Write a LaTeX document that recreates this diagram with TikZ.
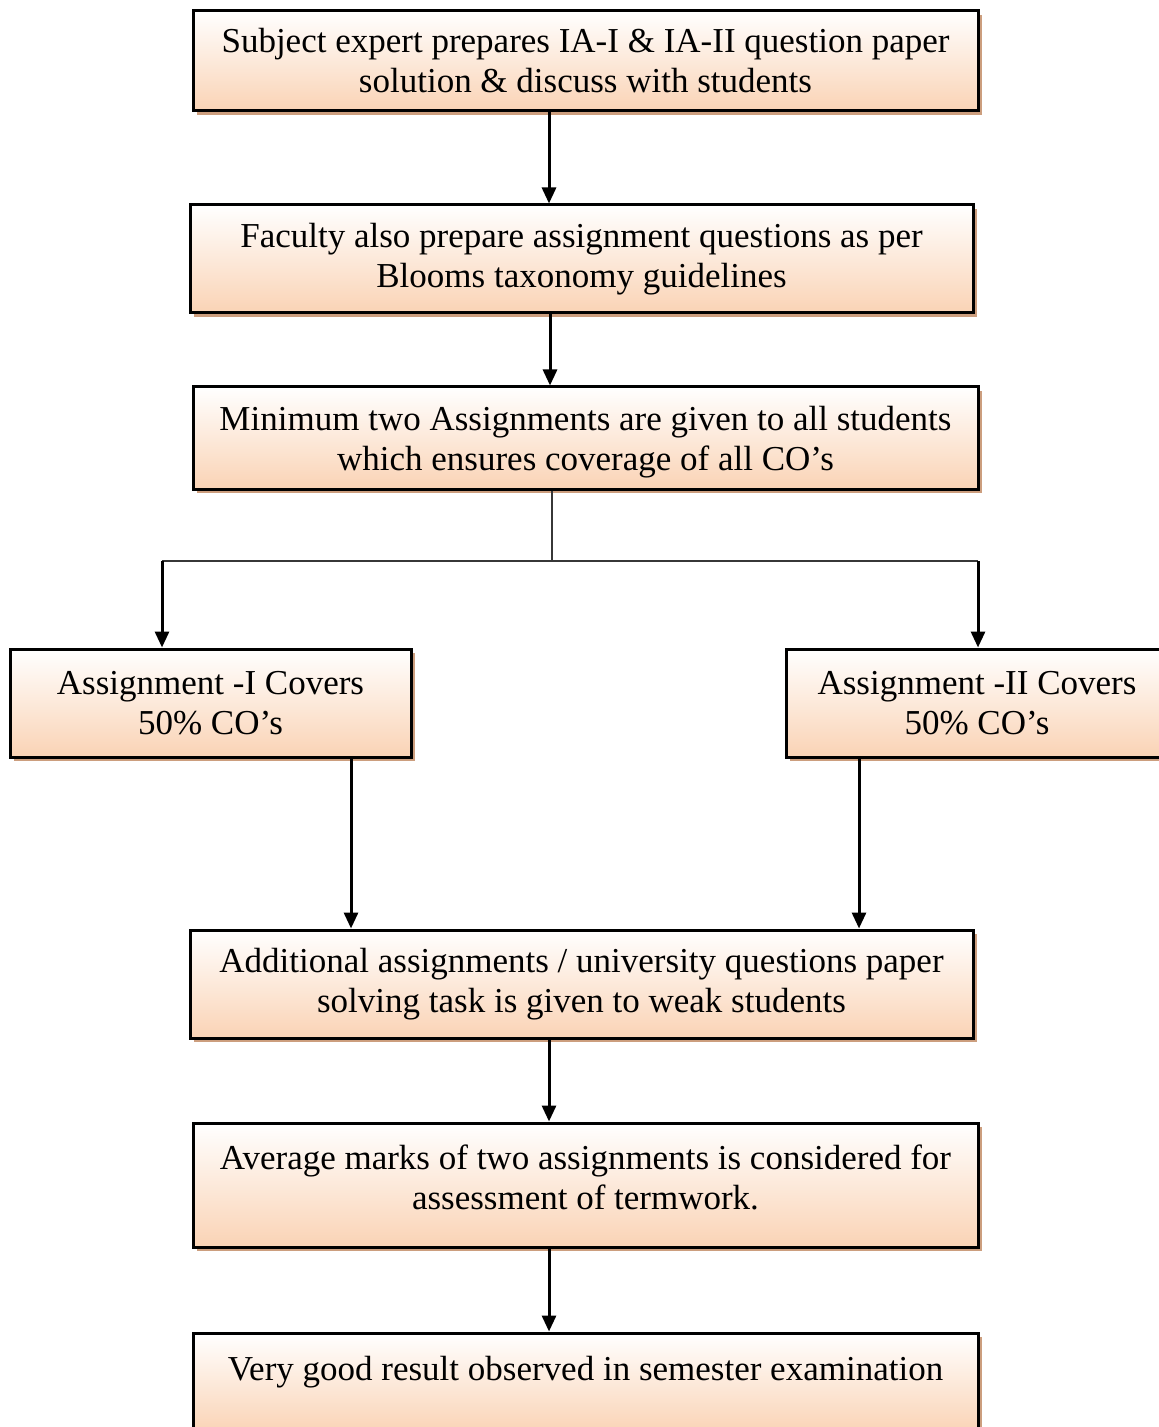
\documentclass[tikz,border=0pt]{standalone}
\usepackage{xcolor}
\usepackage{fontspec}
\setmainfont{Liberation Serif}
\usepackage{tikz}
\usetikzlibrary{arrows.meta,shadows}

\definecolor{peach}{RGB}{250,211,181}
\definecolor{shadowtan}{RGB}{204,158,126}
\definecolor{linegray}{RGB}{55,55,55}

\tikzset{
  stepbox/.style={draw=black, line width=1.5pt, inner sep=0pt,
    top color=white, middle color=peach!70, bottom color=peach, align=center,
    font=\fontsize{17.5pt}{20pt}\selectfont,
    drop shadow={shadow xshift=2.2pt, shadow yshift=-2.2pt, fill=shadowtan, opacity=1}},
  arrowline/.style={line width=1.5pt, -{Triangle[length=8pt,width=7pt]}},
  thinline/.style={draw=linegray, line width=0.6pt}
}

\begin{document}
\begin{tikzpicture}[x=0.5pt, y=-0.5pt]
            \useasboundingbox (0,0) rectangle (1159,1427);
            \clip (0,0) rectangle (1159,1427);

            % Boxes
            \node[stepbox, minimum width=392.5pt, minimum height=50pt] (expert) at (585.5,61)
                {Subject expert prepares IA-I \& IA-II question paper\\ solution \& discuss with students};
            \node[stepbox, minimum width=391.5pt, minimum height=54pt] (faculty) at (581.5,259)
                {Faculty also prepare assignment questions as per\\ Blooms taxonomy guidelines};
            \node[stepbox, minimum width=392.5pt, minimum height=51pt, text depth=0pt] (minimum) at (585.5,438)
                {Minimum two Assignments are given to all students\\ which ensures coverage of all CO’s};
            \node[stepbox, minimum width=200.5pt, minimum height=54pt] (partone) at (210.5,703)
                {Assignment -I Covers\\ 50\% CO’s};
            \node[stepbox, minimum width=191pt, minimum height=54pt] (parttwo) at (977,703)
                {Assignment -II Covers\\ 50\% CO’s};
            \node[stepbox, minimum width=391.5pt, minimum height=54pt] (weak) at (581.5,984)
                {Additional assignments / university questions paper\\ solving task is given to weak students};
            \node[stepbox, minimum width=392.5pt, minimum height=62pt, text depth=7.5pt] (average) at (585.5,1185)
                {Average marks of two assignments is considered for\\ assessment of termwork.};
            \node[stepbox, minimum width=392.5pt, minimum height=50pt, text depth=15pt] (result) at (585.5,1383)
                {Very good result observed in semester examination};

            % Straight arrows
            \draw[arrowline] ([xshift=-18.25pt]expert.south) coordinate (a1) -- (a1 |- faculty.north);
            \draw[arrowline] ([xshift=-15.75pt]faculty.south) coordinate (a2) -- (a2 |- minimum.north);
            \draw[arrowline] ([xshift=70.25pt]partone.south) coordinate (a3) -- (a3 |- weak.north);
            \draw[arrowline] ([xshift=-59pt]parttwo.south) coordinate (a4) -- (a4 |- weak.north);
            \draw[arrowline] ([xshift=-16.25pt]weak.south) coordinate (a5) -- (a5 |- average.north);
            \draw[arrowline] ([xshift=-18.25pt]average.south) coordinate (a6) -- (a6 |- result.north);

            % Fork
            \coordinate (fork) at (552,561);
            \coordinate (forkL) at (162,561);
            \coordinate (forkR) at (978,561);
            \draw[thinline] (minimum.south -| fork) -- (fork);
            \draw[thinline] (forkL) -- (forkR);
            \draw[arrowline] (forkL) -- (forkL |- partone.north);
            \draw[arrowline] (forkR) -- (forkR |- parttwo.north);
\end{tikzpicture}
\end{document}
